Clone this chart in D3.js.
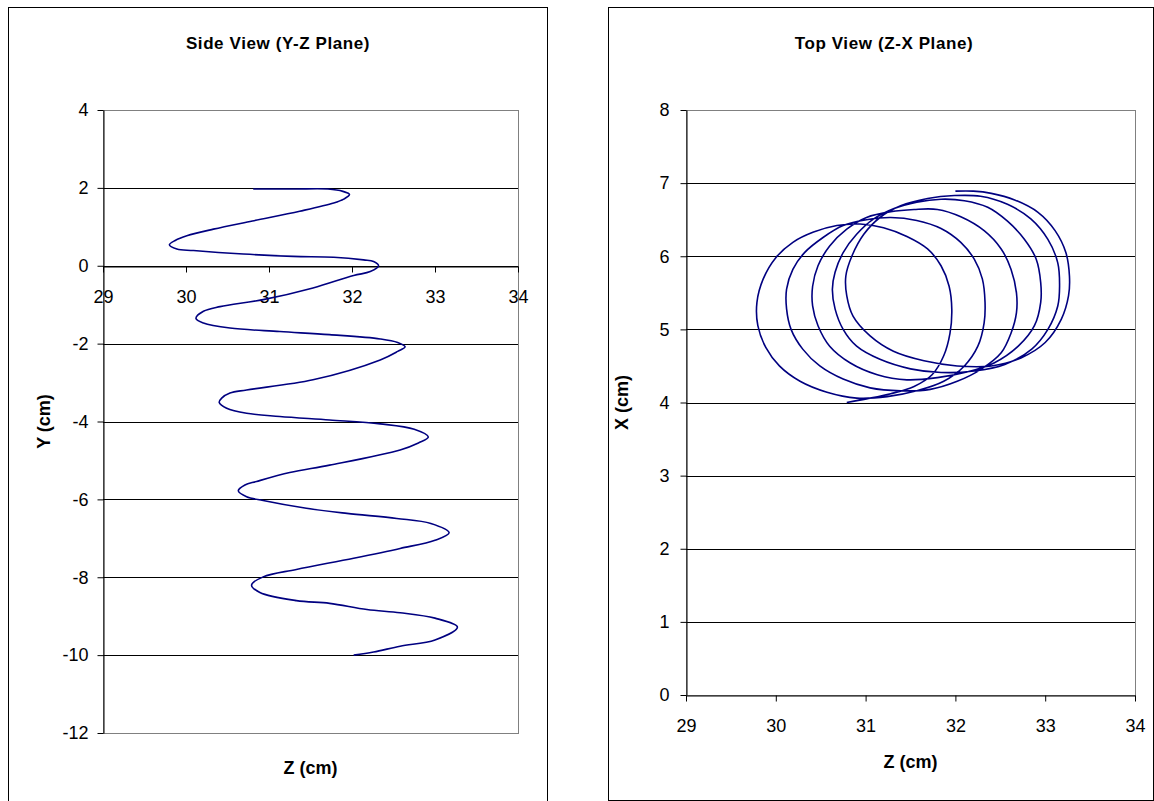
<!DOCTYPE html>
<html>
<head>
<meta charset="utf-8">
<script src="https://cdn.jsdelivr.net/npm/d3@7"></script>
<style>
  body { margin: 0; background: #fff; }
  svg { display: block; font-family: "Liberation Sans", Arial, sans-serif; }
</style>
</head>
<body>
<svg id="chart" width="1154" height="801"></svg>
<script>
// side view: [Z (cm), Y (cm)]
const sideViewPoints = [
  [30.81, 1.97], [31.30, 1.97], [31.71, 1.97], [31.89, 1.91], [31.97, 1.83], [31.90, 1.71],
  [31.78, 1.61], [31.37, 1.40], [30.80, 1.15], [30.33, 0.94], [30.01, 0.77], [29.87, 0.65],
  [29.80, 0.54], [29.89, 0.43], [30.09, 0.39], [30.69, 0.30], [31.29, 0.24], [31.78, 0.22],
  [32.14, 0.15], [32.26, 0.11], [32.32, 0.00], [32.22, -0.15], [32.02, -0.25], [31.53, -0.57],
  [30.93, -0.87], [30.41, -1.05], [30.21, -1.17], [30.12, -1.35], [30.21, -1.47], [30.53, -1.60],
  [31.13, -1.69], [31.73, -1.77], [32.34, -1.88], [32.55, -1.97], [32.64, -2.08], [32.55, -2.20],
  [32.34, -2.42], [31.53, -2.93], [30.73, -3.19], [30.53, -3.27], [30.43, -3.40], [30.40, -3.51],
  [30.49, -3.66], [30.73, -3.79], [31.13, -3.87], [31.73, -3.96], [32.34, -4.06], [32.75, -4.20],
  [32.92, -4.40], [32.80, -4.55], [32.58, -4.73], [31.73, -5.12], [31.25, -5.31], [30.85, -5.54],
  [30.71, -5.63], [30.63, -5.78], [30.73, -5.93], [30.93, -6.03], [31.45, -6.23], [31.94, -6.36],
  [32.54, -6.49], [32.95, -6.62], [33.17, -6.86], [33.00, -7.05], [32.58, -7.26], [32.02, -7.51],
  [31.33, -7.80], [30.93, -7.99], [30.79, -8.20], [30.89, -8.39], [31.33, -8.60], [31.73, -8.67],
  [32.18, -8.83], [32.58, -8.91], [33.00, -9.05], [33.27, -9.28], [33.00, -9.61], [32.58, -9.77],
  [32.26, -9.92], [32.02, -10.00]
];

// top view: [Z (cm), X (cm)]
const topViewPoints = [
  [30.79, 4.00], [31.01, 4.05], [31.28, 4.12], [31.54, 4.22], [31.74, 4.38], [31.87, 4.64],
  [31.94, 4.95], [31.96, 5.27], [31.93, 5.59], [31.84, 5.87], [31.69, 6.10], [31.46, 6.27],
  [31.20, 6.39], [30.94, 6.44], [30.68, 6.42], [30.42, 6.33], [30.19, 6.19], [30.00, 5.98],
  [29.86, 5.69], [29.79, 5.37], [29.80, 5.05], [29.89, 4.75], [30.04, 4.50], [30.27, 4.29],
  [30.57, 4.14], [30.90, 4.06], [31.24, 4.08], [31.57, 4.16], [31.87, 4.29], [32.10, 4.50],
  [32.25, 4.77], [32.32, 5.09], [32.33, 5.37], [32.30, 5.69], [32.21, 5.96], [32.06, 6.19],
  [31.84, 6.38], [31.57, 6.49], [31.28, 6.53], [31.01, 6.50], [30.75, 6.42], [30.53, 6.26],
  [30.32, 6.05], [30.19, 5.82], [30.12, 5.55], [30.12, 5.28], [30.17, 5.00], [30.30, 4.73],
  [30.49, 4.50], [30.75, 4.32], [31.05, 4.20], [31.39, 4.16], [31.72, 4.18], [32.02, 4.29],
  [32.28, 4.45], [32.51, 4.68], [32.62, 4.95], [32.68, 5.23], [32.68, 5.50], [32.62, 5.82],
  [32.51, 6.10], [32.32, 6.35], [32.06, 6.54], [31.80, 6.64], [31.54, 6.64], [31.28, 6.61],
  [31.01, 6.53], [30.79, 6.37], [30.60, 6.14], [30.47, 5.87], [30.41, 5.59], [30.41, 5.32],
  [30.47, 5.05], [30.60, 4.77], [30.83, 4.54], [31.13, 4.38], [31.46, 4.31], [31.80, 4.34],
  [32.14, 4.42], [32.43, 4.54], [32.70, 4.77], [32.88, 5.05], [32.95, 5.37], [32.95, 5.64],
  [32.90, 5.96], [32.77, 6.23], [32.58, 6.48], [32.36, 6.67], [32.10, 6.76], [31.84, 6.78],
  [31.57, 6.74], [31.31, 6.65], [31.09, 6.51], [30.90, 6.30], [30.75, 6.05], [30.66, 5.78],
  [30.63, 5.55], [30.66, 5.28], [30.75, 5.00], [30.90, 4.77], [31.16, 4.59], [31.50, 4.46],
  [31.84, 4.41], [32.21, 4.43], [32.55, 4.52], [32.85, 4.73], [33.03, 5.00], [33.14, 5.32],
  [33.16, 5.59], [33.14, 5.91], [33.03, 6.23], [32.84, 6.51], [32.58, 6.71], [32.28, 6.82],
  [31.99, 6.83], [31.69, 6.79], [31.39, 6.69], [31.16, 6.53], [30.98, 6.30], [30.85, 6.01],
  [30.78, 5.73], [30.79, 5.46], [30.86, 5.18], [31.05, 4.91], [31.31, 4.70], [31.65, 4.57],
  [32.02, 4.50], [32.40, 4.50], [32.73, 4.61], [33.00, 4.82], [33.18, 5.14], [33.26, 5.46],
  [33.27, 5.73], [33.23, 6.05], [33.11, 6.35], [32.92, 6.60], [32.66, 6.77], [32.40, 6.86],
  [32.20, 6.89], [32.00, 6.89]
];

const zTicks = [29, 30, 31, 32, 33, 34];
const sideYTicks = [-12, -10, -8, -6, -4, -2, 0, 2, 4];
const topXTicks = [0, 1, 2, 3, 4, 5, 6, 7, 8];

const svg = d3.select('#chart');
const fontFamily = '"Liberation Sans", Arial, sans-serif';

function drawPanel(p) {
  // outer chart border
  svg.append('rect')
    .attr('x', p.box[0] + 0.5).attr('y', p.box[1] + 0.5)
    .attr('width', p.box[2]).attr('height', p.box[3])
    .attr('fill', '#fff').attr('stroke', '#000').attr('stroke-width', 1);

  const x = d3.scaleLinear().domain([zTicks[0], zTicks[zTicks.length - 1]]).range([p.plot.left, p.plot.right]);
  const y = d3.scaleLinear().domain([p.yTicks[0], p.yTicks[p.yTicks.length - 1]]).range([p.plot.bottom, p.plot.top]);

  // plot area border (grey)
  svg.append('rect')
    .attr('x', p.plot.left + 0.5).attr('y', p.plot.top + 0.5)
    .attr('width', p.plot.right - p.plot.left).attr('height', p.plot.bottom - p.plot.top)
    .attr('fill', 'none').attr('stroke', '#808080').attr('stroke-width', 1);

  // horizontal gridlines
  svg.append('g')
    .selectAll('line')
    .data(p.yTicks.slice(1, -1))
    .enter().append('line')
    .attr('x1', p.plot.left).attr('x2', p.plot.right)
    .attr('y1', d => Math.round(y(d)) + 0.5).attr('y2', d => Math.round(y(d)) + 0.5)
    .attr('stroke', '#000').attr('stroke-width', 1);

  // y axis
  const yAxis = svg.append('g')
    .attr('transform', 'translate(' + (p.plot.left + 0.5) + ',0)')
    .call(d3.axisLeft(y).tickValues(p.yTicks).tickFormat(d => String(d))
      .tickSize(6).tickSizeOuter(0).tickPadding(p.yPad));
  yAxis.selectAll('text').attr('font-size', 18).attr('font-family', fontFamily).attr('fill', '#000');

  // x axis crossing at value 0
  const xAxis = svg.append('g')
    .attr('transform', 'translate(0,' + (Math.round(y(0)) + 0.5) + ')')
    .call(d3.axisBottom(x).tickValues(zTicks).tickFormat(d => String(d))
      .tickSize(6).tickSizeOuter(0).tickPadding(18));
  xAxis.selectAll('text').attr('font-size', 18).attr('font-family', fontFamily).attr('fill', '#000');

  svg.selectAll('.domain').attr('stroke', '#000');
  svg.selectAll('.tick line').attr('stroke', '#000');

  // trajectory
  svg.append('path')
    .datum(p.points)
    .attr('fill', 'none')
    .attr('stroke', '#000080')
    .attr('stroke-width', 1.6)
    .attr('stroke-linejoin', 'round')
    .attr('d', d3.line().curve(d3.curveCatmullRom.alpha(0.5)).x(d => x(d[0])).y(d => y(d[1])));

  // titles
  svg.append('text')
    .attr('x', p.titlePos[0]).attr('y', p.titlePos[1])
    .attr('text-anchor', 'middle')
    .attr('font-size', 17).attr('font-weight', 'bold')
    .attr('letter-spacing', 0.6)
    .text(p.title);

  svg.append('text')
    .attr('x', (p.plot.left + p.plot.right) / 2).attr('y', p.xLabelY)
    .attr('text-anchor', 'middle')
    .attr('font-size', 18).attr('font-weight', 'bold')
    .text('Z (cm)');

  svg.append('text')
    .attr('transform', 'translate(' + p.yLabelX + ',' + (p.plot.top + p.plot.bottom) / 2 + ') rotate(-90)')
    .attr('text-anchor', 'middle')
    .attr('font-size', 18).attr('font-weight', 'bold')
    .text(p.yLabel);
}

drawPanel({
  box: [8, 7, 539, 800],
  plot: {left: 103, right: 518, top: 110, bottom: 733},
  yTicks: sideYTicks,
  yPad: 9,
  points: sideViewPoints,
  title: 'Side View (Y-Z Plane)',
  titlePos: [278, 49],
  xLabelY: 774,
  yLabel: 'Y (cm)',
  yLabelX: 50
});

drawPanel({
  box: [608, 7, 545, 793],
  plot: {left: 686, right: 1135, top: 110, bottom: 695},
  yTicks: topXTicks,
  yPad: 11,
  points: topViewPoints,
  title: 'Top View (Z-X Plane)',
  titlePos: [884, 49],
  xLabelY: 768,
  yLabel: 'X (cm)',
  yLabelX: 628
});
</script>
</body>
</html>
